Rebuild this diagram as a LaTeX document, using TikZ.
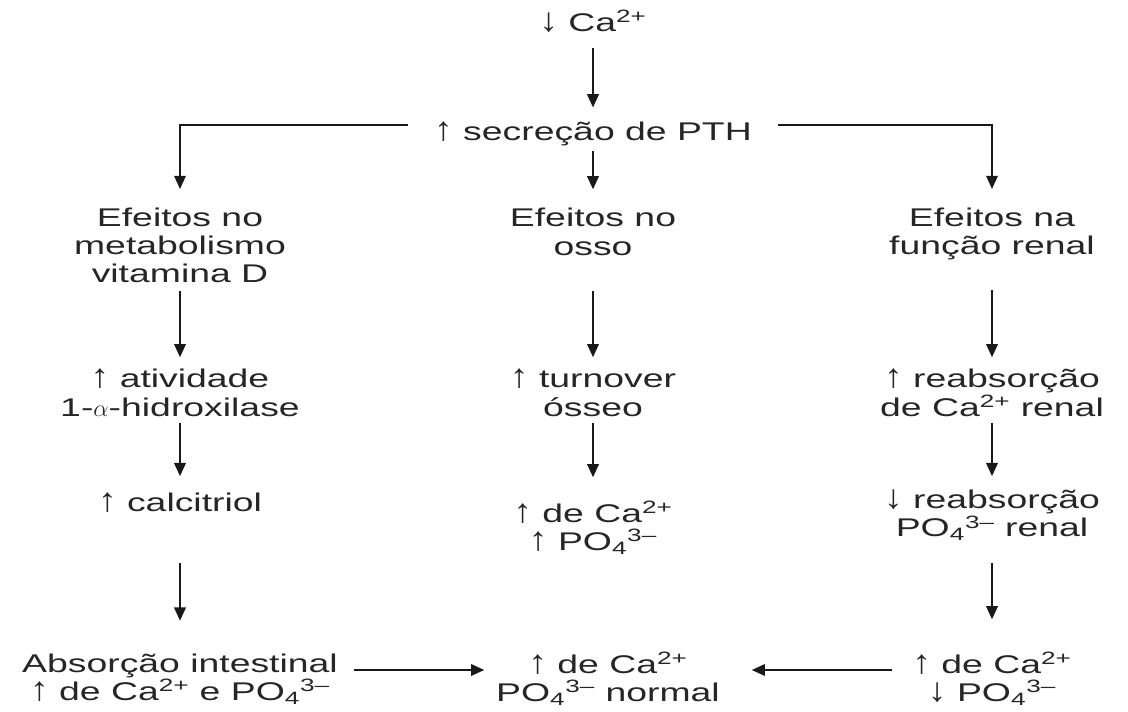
\documentclass[tikz,border=0pt]{standalone}
\usepackage{fontspec}
\usepackage{graphicx}
\setmainfont{Liberation Sans}[FakeStretch=1.46]
\usetikzlibrary{arrows.meta}

\newcommand{\sobe}{\scalebox{1}[1.3]{↑}}
\newcommand{\desce}{\scalebox{1}[1.3]{↓}}

\begin{document}
\begin{tikzpicture}
[font=\fontsize{18.2}{20}\selectfont, line width=1.3pt,
txt/.style={align=center, inner sep=0pt, outer sep=0pt, text=black!85},
arr/.style={draw=black!90, -{Triangle[length=3.3mm, width=2.9mm]}}]

\useasboundingbox (0,0) rectangle (28.2,17.775);

\node[txt] (ca) at (14.825,17.2375) {\desce\ Ca\textsuperscript{2+}};
\node[txt] (pth) at (14.825,14.4375) {\sobe\ secreção de PTH};

\node[txt] (efL) at (4.5,11.6375) {Efeitos no\\metabolismo\\vitamina D};
\node[txt] (efC) at (14.825,11.98) {Efeitos no\\osso};
\node[txt] (efR) at (24.8,11.925) {Efeitos na\\função renal};

\node[txt] (atL) at (4.5,7.956) {\sobe\ atividade\\1-$\alpha$-hidroxilase};
\node[txt] (atC) at (14.825,7.956) {\sobe\ turnover\\ósseo};
\node[txt] (atR) at (24.8,7.956) {\sobe\ reabsorção\\de Ca\textsuperscript{2+} renal};

\node[txt] (calc) at (4.5,5.2) {\sobe\ calcitriol};
\node[txt] (osC) at (14.825,4.575) {\sobe\ de Ca\textsuperscript{2+}\\\sobe\ PO\textsubscript{4}\textsuperscript{3–}};
\node[txt] (reR) at (24.8,4.8875) {\desce\ reabsorção\\PO\textsubscript{4}\textsuperscript{3–} renal};

\node[txt] (absL) at (4.5,0.8) {Absorção intestinal\\\sobe\ de Ca\textsuperscript{2+} e PO\textsubscript{4}\textsuperscript{3–}};
\node[txt] (norm) at (15.2,0.8) {\sobe\ de Ca\textsuperscript{2+}\\PO\textsubscript{4}\textsuperscript{3–} normal};
\node[txt] (fimR) at (24.8,0.8) {\sobe\ de Ca\textsuperscript{2+}\\\desce\ PO\textsubscript{4}\textsuperscript{3–}};

% tronco
\draw[arr, shorten <=0.375cm, shorten >=0.35cm] (ca) -- (pth);
\draw[arr, shorten <=0.125cm, shorten >=0.475cm] (pth) -- (efC);
\draw[arr, shorten <=0.65cm, shorten >=0.475cm] ([yshift=0.21cm]pth.west) -| (efL);
\draw[arr, shorten <=0.65cm, shorten >=0.475cm] ([yshift=0.21cm]pth.east) -| (efR);

% colunas
\foreach \a/\b/\s/\t in {efL/atL/0.2/0.3, efC/atC/0.89/0.3, efR/atR/0.76/0.3,
  atL/calc/0.16/0.425, atC/osC/0.16/0.6, atR/reR/0.16/0.35,
  calc/absL/1.25/0.825, reR/fimR/0.55/0.825} {
  \draw[arr, shorten <=\s cm, shorten >=\t cm] (\a) -- (\b);
}

% base
\draw[arr, shorten <=0.4cm, shorten >=0.3cm] ([yshift=0.225cm]absL.east) -- ([yshift=0.225cm]norm.west);
\draw[arr, shorten <=0.5cm, shorten >=0.8cm] ([yshift=0.225cm]fimR.west) -- ([yshift=0.225cm]norm.east);
\end{tikzpicture}
\end{document}
